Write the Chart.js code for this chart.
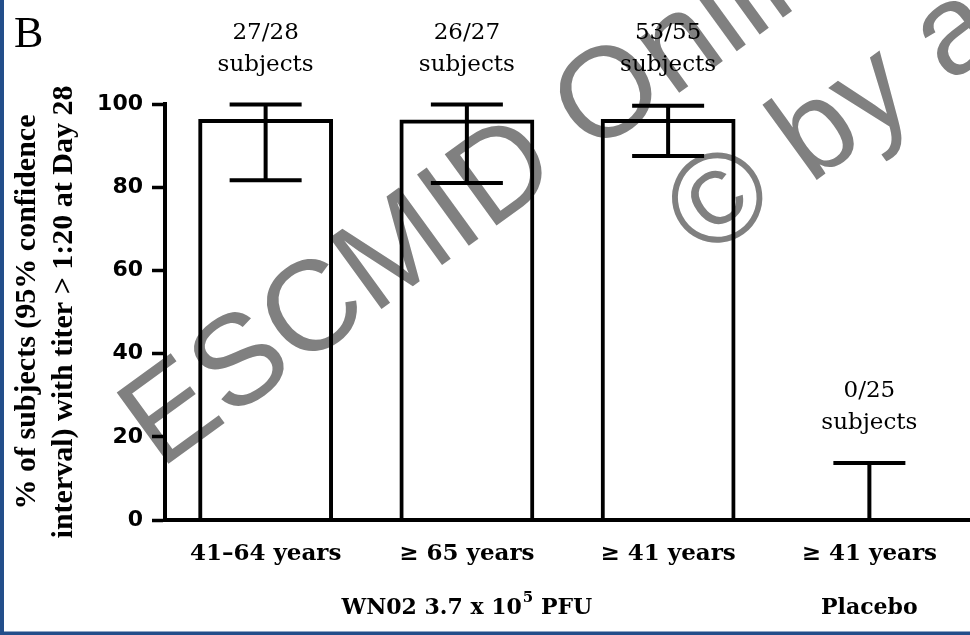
<!DOCTYPE html>
<html>
<head>
<meta charset="utf-8">
<script src="https://cdn.jsdelivr.net/npm/chart.js@4/dist/chart.umd.min.js"></script>
<style>
  html, body { margin: 0; padding: 0; background: #fff; }
  #wrap { width: 970px; height: 635px; position: relative; }
</style>
</head>
<body>
<div id="wrap"><canvas id="chart" width="970" height="635"></canvas></div>
<script>
// Seroconversion at Day 28: share of subjects with titer > 1:20, with 95% CI
const categories = ['41–64 years', '≥ 65 years', '≥ 41 years', '≥ 41 years'];
const responders = [27, 26, 53, 0];
const totals = [28, 27, 55, 25];
const percentResponding = [96.4, 96.3, 96.4, 0];
const ciLower = [81.7, 81.0, 87.5, 0];
const ciUpper = [99.9, 99.9, 99.6, 13.7];
const yTicks = [0, 20, 40, 60, 80, 100];
// Group captions under the category labels; "^" marks a superscript
const groupNames = ['WN02 3.7 x 10^5 PFU', 'Placebo'];
const groupFirst = [0, 3];
const groupLast = [2, 3];
const panelLetter = 'B';
const yTitle = ['% of subjects (95% confidence', 'interval) with titer > 1:20 at Day 28'];

const LINE = 4;

const backdrop = {
  id: 'backdrop',
  beforeDraw(chart) {
    const ctx = chart.ctx;
    ctx.save();
    ctx.fillStyle = '#fff';
    ctx.fillRect(0, 0, chart.width, chart.height);
    // copyright watermark, behind the plot
    ctx.fillStyle = '#808080';
    ctx.font = '128px "Liberation Sans"';
    ctx.textBaseline = 'alphabetic';
    const angle = -36 * Math.PI / 180;
    ctx.save();
    ctx.translate(160, 470);
    ctx.rotate(angle);
    ctx.fillText('ESCMID Online Lecture Library', 0, 0);
    ctx.restore();
    ctx.save();
    ctx.translate(705, 261);
    ctx.rotate(angle);
    ctx.fillText('© by author', 0, 0);
    ctx.restore();
    ctx.restore();
  }
};

const errorBars = {
  id: 'errorBars',
  afterDatasetsDraw(chart) {
    const ctx = chart.ctx;
    const y = chart.scales.y;
    const meta = chart.getDatasetMeta(0);
    ctx.save();
    ctx.strokeStyle = '#000';
    ctx.lineWidth = LINE;
    ctx.lineCap = 'butt';
    const half = 36;
    meta.data.forEach((bar, i) => {
      const x = bar.x;
      const yLo = y.getPixelForValue(ciLower[i]);
      const yHi = y.getPixelForValue(ciUpper[i]);
      ctx.beginPath();
      ctx.moveTo(x, yLo);
      ctx.lineTo(x, yHi);
      ctx.moveTo(x - half, yHi);
      ctx.lineTo(x + half, yHi);
      if (ciLower[i] < percentResponding[i]) {
        ctx.moveTo(x - half, yLo);
        ctx.lineTo(x + half, yLo);
      }
      ctx.stroke();
    });
    ctx.restore();
  }
};

const annotations = {
  id: 'annotations',
  afterDraw(chart) {
    const ctx = chart.ctx;
    const y = chart.scales.y;
    const meta = chart.getDatasetMeta(0);
    ctx.save();
    ctx.fillStyle = '#000';
    ctx.textAlign = 'center';
    ctx.textBaseline = 'middle';

    // counts above each error bar
    ctx.font = '23px "DejaVu Serif"';
    meta.data.forEach((bar, i) => {
      const top = y.getPixelForValue(Math.ceil(ciUpper[i]));
      ctx.fillText(responders[i] + '/' + totals[i], bar.x, top - 71);
      ctx.fillText('subjects', bar.x, top - 39);
    });

    // group captions
    const bold = 'bold 22px "DejaVu Serif"';
    const supFont = 'bold 15px "DejaVu Serif"';
    groupNames.forEach((name, g) => {
      const cx = (meta.data[groupFirst[g]].x + meta.data[groupLast[g]].x) / 2;
      const cy = 608;
      const parts = name.split('^');
      if (parts.length === 1) {
        ctx.font = bold;
        ctx.textAlign = 'center';
        ctx.fillText(name, cx, cy);
        return;
      }
      const base = parts[0];
      const sup = parts[1].charAt(0);
      const rest = parts[1].slice(1);
      ctx.font = bold;
      const wBase = ctx.measureText(base).width;
      const wRest = ctx.measureText(rest).width;
      ctx.font = supFont;
      const wSup = ctx.measureText(sup).width + 1;
      let x = cx - (wBase + wSup + wRest) / 2;
      ctx.textAlign = 'left';
      ctx.font = bold;
      ctx.fillText(base, x, cy);
      x += wBase;
      ctx.font = supFont;
      ctx.fillText(sup, x + 1, cy - 10);
      x += wSup;
      ctx.font = bold;
      ctx.fillText(rest, x, cy);
    });

    // panel letter
    ctx.textAlign = 'left';
    ctx.textBaseline = 'alphabetic';
    ctx.font = '44px "Liberation Serif"';
    ctx.fillText(panelLetter, 14, 47);

    // page frame
    ctx.fillStyle = '#234e8a';
    ctx.fillRect(0, 0, 4, chart.height);
    ctx.fillRect(0, chart.height - 3.5, chart.width, 3.5);
    ctx.restore();
  }
};

new Chart(document.getElementById('chart'), {
  type: 'bar',
  data: {
    labels: categories,
    datasets: [{
      data: percentResponding,
      backgroundColor: 'rgba(255,255,255,0)',
      borderColor: '#000',
      borderWidth: c => (c.raw === 0 ? 0 : LINE),
      barPercentage: 0.67,
      categoryPercentage: 1
    }]
  },
  options: {
    responsive: false,
    animation: false,
    devicePixelRatio: 1,
    layout: { padding: { top: 104, left: 0, right: 0, bottom: 0 } },
    plugins: { legend: { display: false }, tooltip: { enabled: false } },
    scales: {
      x: {
        grid: { display: false, drawTicks: false },
        border: { display: true, color: '#000', width: LINE },
        ticks: {
          color: '#000',
          font: { family: 'DejaVu Serif', weight: 'bold', size: 23 },
          padding: 20,
          maxRotation: 0,
          autoSkip: false
        },
        afterFit(scale) { scale.height = 115; }
      },
      y: {
        min: 0,
        max: 100,
        afterBuildTicks(scale) { scale.ticks = yTicks.map(v => ({ value: v })); },
        grid: { drawOnChartArea: false, tickLength: 13, tickWidth: 3.5, tickColor: '#000' },
        border: { color: '#000', width: LINE },
        ticks: {
          color: '#000',
          font: { family: 'DejaVu Sans', weight: 'bold', size: 22 },
          padding: 9
        },
        title: {
          display: true,
          text: yTitle,
          color: '#000',
          font: { family: 'Liberation Serif', weight: 'bold', size: 30, lineHeight: 37 / 30 },
          padding: { top: 8.5, bottom: 0 }
        },
        afterFit(scale) { scale.width = 165; }
      }
    }
  },
  plugins: [backdrop, errorBars, annotations]
});
</script>
</body>
</html>
